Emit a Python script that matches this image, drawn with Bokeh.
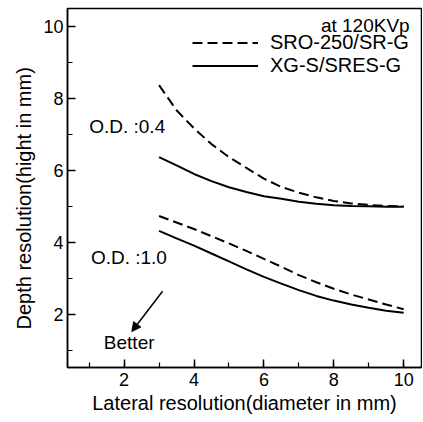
from bokeh.plotting import figure
from bokeh.models import (Range1d, SingleIntervalTicker, Label, Arrow, NormalHead,
                          Legend, LegendItem, Title)
from bokeh.embed import file_html
from bokeh.resources import INLINE

# ---- data ----
x_vals = [3, 3.5, 4, 4.5, 5, 5.5, 6, 6.5, 7, 7.5, 8, 8.5, 9, 9.5, 10]
sro_od04 = [8.38, 7.68, 7.18, 6.74, 6.38, 6.08, 5.78, 5.55, 5.39, 5.26, 5.16, 5.09, 5.05, 5.02, 5.01]
xgs_od04 = [6.38, 6.15, 5.91, 5.71, 5.54, 5.41, 5.29, 5.22, 5.14, 5.08, 5.04, 5.02, 5.01, 5.00, 5.00]
sro_od10 = [4.74, 4.56, 4.38, 4.18, 3.98, 3.77, 3.55, 3.33, 3.10, 2.90, 2.72, 2.56, 2.42, 2.28, 2.15]
xgs_od10 = [4.33, 4.12, 3.92, 3.70, 3.48, 3.26, 3.05, 2.86, 2.68, 2.52, 2.39, 2.28, 2.19, 2.11, 2.05]

series_names = ["SRO-250/SR-G", "XG-S/SRES-G"]
od_labels = ["O.D. :0.4", "O.D. :1.0"]
note_text = "at 120KVp"
better_text = "Better"
x_title = "Lateral resolution(diameter in mm)"
y_title = "Depth resolution(hight in mm)"

FONT = "Liberation Sans"

p = figure(width=422, height=421,
           x_range=Range1d(0.38, 10.51), y_range=Range1d(0.53, 10.51),
           output_backend="svg", toolbar_location=None,
           min_border_left=67, min_border_right=1, min_border_top=8,
           min_border_bottom=54)

p.grid.visible = False
p.outline_line_color = "black"
p.outline_line_width = 1.5
p.background_fill_color = "white"
p.border_fill_color = "white"

for ax in (p.xaxis[0], p.yaxis[0]):
    ax.ticker = SingleIntervalTicker(interval=2, num_minor_ticks=2)
    ax.major_tick_in = 8
    ax.major_tick_out = 0
    ax.minor_tick_in = 5
    ax.minor_tick_out = 0
    ax.axis_line_width = 1.5
    ax.axis_line_color = "black"
    ax.major_tick_line_color = "black"
    ax.minor_tick_line_color = "black"
    ax.major_tick_line_width = 1.5
    ax.minor_tick_line_width = 1.2
    ax.major_label_text_font = FONT
    ax.major_label_text_font_size = "18px"
    ax.major_label_text_color = "black"

p.xaxis[0].major_label_standoff = 5
p.yaxis[0].major_label_standoff = 4

p.xaxis[0].axis_label = x_title
p.xaxis[0].axis_label_text_font = FONT
p.xaxis[0].axis_label_text_font_size = "20px"
p.xaxis[0].axis_label_text_font_style = "normal"
p.xaxis[0].axis_label_text_color = "black"
p.xaxis[0].axis_label_standoff = 3

p.add_layout(Title(text=y_title, align="left", offset=38, standoff=12,
                   text_font=FONT, text_font_size="20px", text_font_style="normal",
                   text_color="black"), "left")

# curves
dash = "10 5"
r_sro04 = p.line(x_vals, sro_od04, line_color="black", line_width=2, line_dash=dash)
r_xgs04 = p.line(x_vals, xgs_od04, line_color="black", line_width=2)
r_sro10 = p.line(x_vals, sro_od10, line_color="black", line_width=2, line_dash=dash)
r_xgs10 = p.line(x_vals, xgs_od10, line_color="black", line_width=2)

legend = Legend(items=[LegendItem(label=series_names[0], renderers=[r_sro04]),
                       LegendItem(label=series_names[1], renderers=[r_xgs04])],
                location=(125, 290), orientation="vertical",
                glyph_width=66, glyph_height=21, label_height=21,
                label_standoff=12, spacing=0, padding=0, margin=0,
                label_text_font=FONT, label_text_font_size="20px",
                label_text_color="black",
                border_line_alpha=0, background_fill_alpha=0)
p.add_layout(legend)

def txt(x, y, t, align="left", size="19px"):
    p.add_layout(Label(x=x, y=y, text=t, text_align=align, text_baseline="middle",
                       text_font=FONT, text_font_size=size, text_color="black"))

txt(10.17, 10.05, note_text, align="right")
txt(1.0, 7.22, od_labels[0])
txt(1.05, 3.59, od_labels[1])
txt(1.42, 1.22, better_text)

p.add_layout(Arrow(end=NormalHead(size=9, fill_color="black", line_color="black"),
                   x_start=3.10, y_start=2.65, x_end=2.22, y_end=1.53,
                   line_color="black", line_width=1.5))

open("out.html", "w").write(file_html(p, INLINE))
